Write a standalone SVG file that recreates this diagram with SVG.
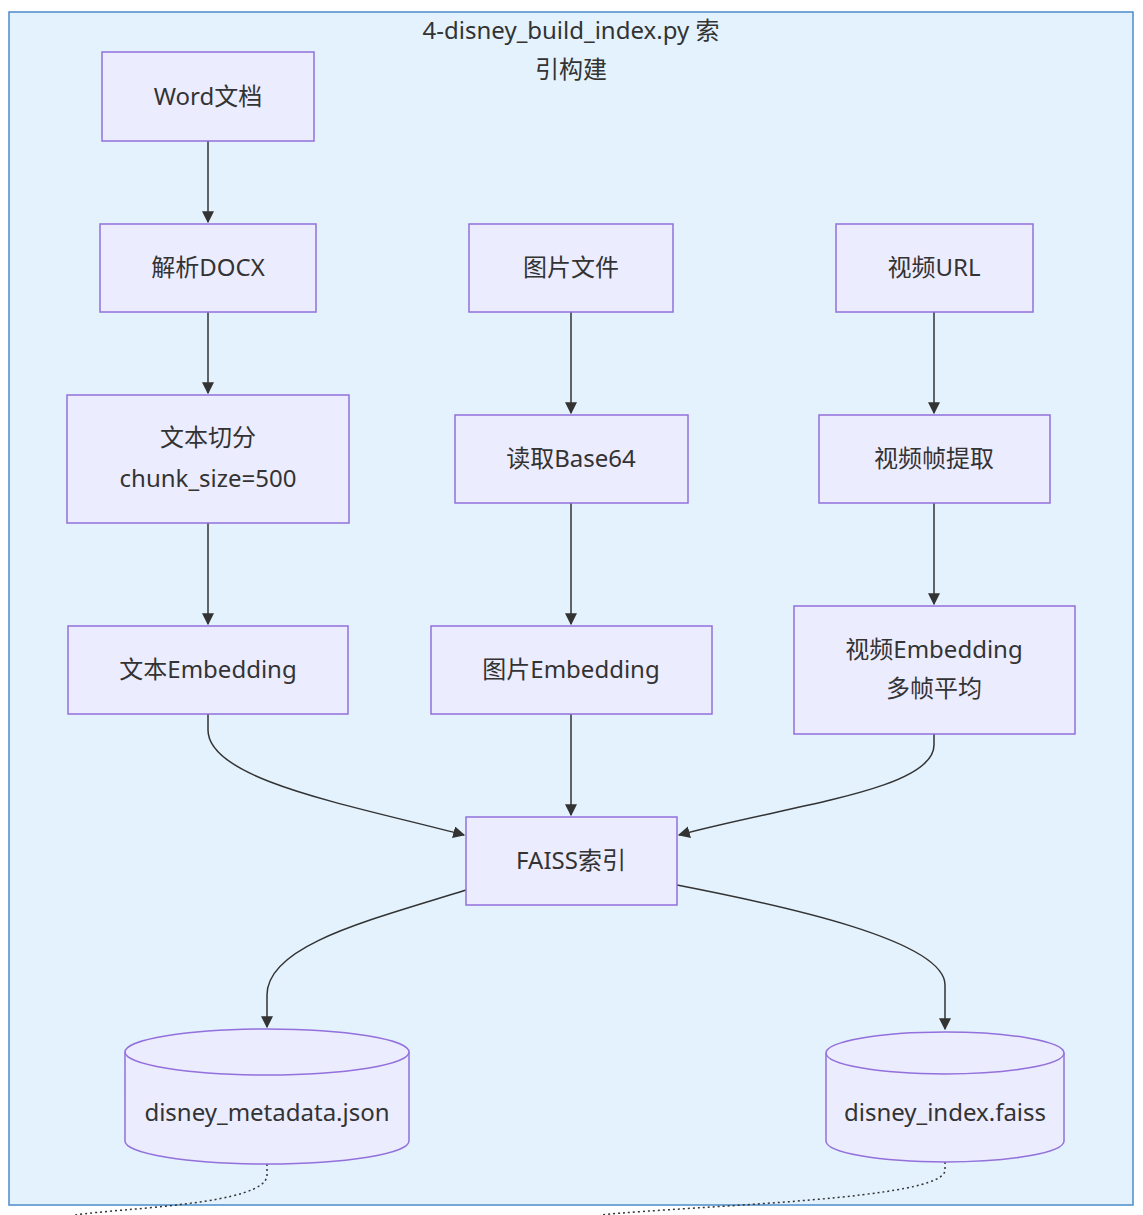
<svg xmlns="http://www.w3.org/2000/svg" width="1143" height="1215" viewBox="0 0 1143 1215">
<style>
.n{fill:#ECECFF;stroke:#9370DB;stroke-width:1.5}
.t{font-family:"Noto Sans","Noto Sans CJK SC",sans-serif;font-size:24px;fill:#333;text-anchor:middle}
.e{fill:none;stroke:#333;stroke-width:1.5}
.d{fill:none;stroke:#333;stroke-width:1.5;stroke-dasharray:2 3}
</style>
<defs><marker id="a" viewBox="0 0 10 10" refX="9" refY="5" markerWidth="8" markerHeight="8" orient="auto"><path d="M0,0L10,5L0,10z" fill="#333"/></marker></defs>
<rect x="0" y="0" width="1143" height="1215" fill="#fff"/>
<g id="cluster"><rect x="9" y="12" width="1124" height="1193" fill="#E3F2FD" stroke="#4B8CC8" stroke-width="1.5"/>
<text class="t" x="571" y="39">4-disney_build_index.py 索</text><text class="t" x="571" y="78">引构建</text></g>
<g id="edges">
<path class="e" d="M208,141V222" marker-end="url(#a)"/>
<path class="e" d="M208,312V393" marker-end="url(#a)"/>
<path class="e" d="M208,523V624" marker-end="url(#a)"/>
<path class="e" d="M571,312V413" marker-end="url(#a)"/>
<path class="e" d="M571,503V624" marker-end="url(#a)"/>
<path class="e" d="M934,312V413" marker-end="url(#a)"/>
<path class="e" d="M934,503V604" marker-end="url(#a)"/>
<path class="e" d="M571,714V815" marker-end="url(#a)"/>
<path class="e" d="M208,714V730C208,780 350,805 464,835" marker-end="url(#a)"/>
<path class="e" d="M934,734V745C934,790 790,805 679,835" marker-end="url(#a)"/>
<path class="e" d="M466,890C370,920 267,945 267,995V1027" marker-end="url(#a)"/>
<path class="e" d="M677,885C780,905 945,940 945,985V1029" marker-end="url(#a)"/>
<path class="d" d="M267,1164V1175C267,1205 120,1208 75,1215"/>
<path class="d" d="M945,1162V1170C945,1200 700,1205 600,1215"/>
</g>
<g id="word"><rect class="n" x="102" y="52" width="212" height="89"/><text class="t" x="208" y="105">Word文档</text></g>
<g id="docx"><rect class="n" x="100" y="224" width="216" height="88"/><text class="t" x="208" y="276">解析DOCX</text></g>
<g id="split"><rect class="n" x="67" y="395" width="282" height="128"/><text class="t" x="208" y="446">文本切分</text><text class="t" x="208" y="487">chunk_size=500</text></g>
<g id="temb"><rect class="n" x="68" y="626" width="280" height="88"/><text class="t" x="208" y="678">文本Embedding</text></g>
<g id="img"><rect class="n" x="469" y="224" width="204" height="88"/><text class="t" x="571" y="276">图片文件</text></g>
<g id="b64"><rect class="n" x="455" y="415" width="233" height="88"/><text class="t" x="571" y="467">读取Base64</text></g>
<g id="iemb"><rect class="n" x="431" y="626" width="281" height="88"/><text class="t" x="571" y="678">图片Embedding</text></g>
<g id="vurl"><rect class="n" x="836" y="224" width="197" height="88"/><text class="t" x="934" y="276">视频URL</text></g>
<g id="frame"><rect class="n" x="819" y="415" width="231" height="88"/><text class="t" x="934" y="467">视频帧提取</text></g>
<g id="vemb"><rect class="n" x="794" y="606" width="281" height="128"/><text class="t" x="934" y="658">视频Embedding</text><text class="t" x="934" y="697">多帧平均</text></g>
<g id="faiss"><rect class="n" x="466" y="817" width="211" height="88"/><text class="t" x="571" y="869">FAISS索引</text></g>
<g id="meta"><path class="n" d="M125,1052A142,23 0 0 1 409,1052V1141A142,23 0 0 1 125,1141Z"/><path class="n" d="M125,1052A142,23 0 0 0 409,1052"/><text class="t" x="267" y="1121">disney_metadata.json</text></g>
<g id="idx"><path class="n" d="M826,1053A119,21 0 0 1 1064,1053V1141A119,21 0 0 1 826,1141Z"/><path class="n" d="M826,1053A119,21 0 0 0 1064,1053"/><text class="t" x="945" y="1121">disney_index.faiss</text></g>
</svg>
